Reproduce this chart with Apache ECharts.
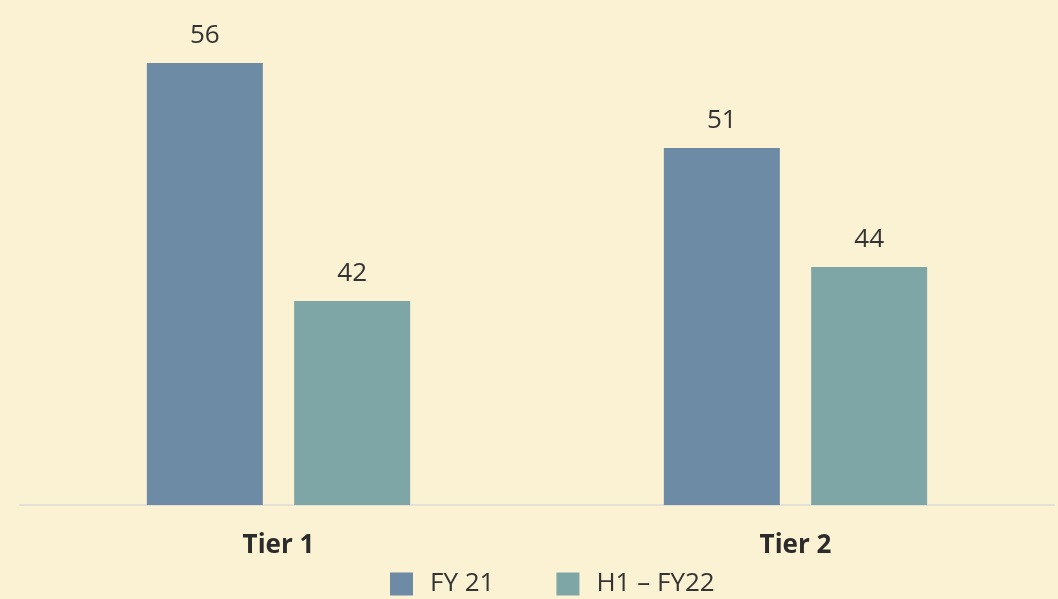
<!DOCTYPE html>
<html>
<head>
<meta charset="utf-8">
<script src="https://cdn.jsdelivr.net/npm/echarts@6/dist/echarts.min.js"></script>
<style>
  html, body { margin: 0; padding: 0; background: #fbf2d3; }
  #chart { width: 1058px; height: 599px; }
</style>
</head>
<body>
<div id="chart"></div>
<script>
// 数据
const categories = ['Tier 1', 'Tier 2']
const fy21 = [56, 51]
const h1fy22 = [42, 44]

let myChart = echarts.init(document.getElementById('chart'))
myChart.setOption({
    backgroundColor: '#fbf2d3',
    color: ['#6e8ba5', '#7ea6a6'],
    textStyle: { fontFamily: 'Open Sans' },
    legend: {
        bottom: -3,
        left: 385,
        itemWidth: 23,
        itemHeight: 23,
        itemGap: 62,
        icon: 'rect',
        textStyle: { fontSize: 26, color: '#333', fontFamily: 'Open Sans', padding: [0, 0, 0, 12] },
        data: ['FY 21', 'H1 – FY22']
    },
    grid: {
        left: 20,
        right: 4,
        top: 63,
        bottom: 94
    },
    xAxis: {
        type: 'category',
        data: categories,
        axisLine: { lineStyle: { color: '#e3e0d6', width: 2 } },
        axisTick: { show: false },
        axisLabel: {
            margin: 28,
            fontSize: 26,
            fontWeight: 'bold',
            color: '#2b2b2b',
            fontFamily: 'Open Sans'
        }
    },
    yAxis: {
        type: 'value',
        min: 30,
        max: 56,
        show: false,
        splitLine: { show: false }
    },
    series: [
        {
            name: 'FY 21',
            type: 'bar',
            barWidth: 116,
            barGap: '27%',
            data: fy21,
            label: { show: true, position: 'top', distance: 14, fontSize: 26, color: '#333' }
        },
        {
            name: 'H1 – FY22',
            type: 'bar',
            barWidth: 116,
            data: h1fy22,
            label: { show: true, position: 'top', distance: 14, fontSize: 26, color: '#333' }
        }
    ]
})
</script>
</body>
</html>
